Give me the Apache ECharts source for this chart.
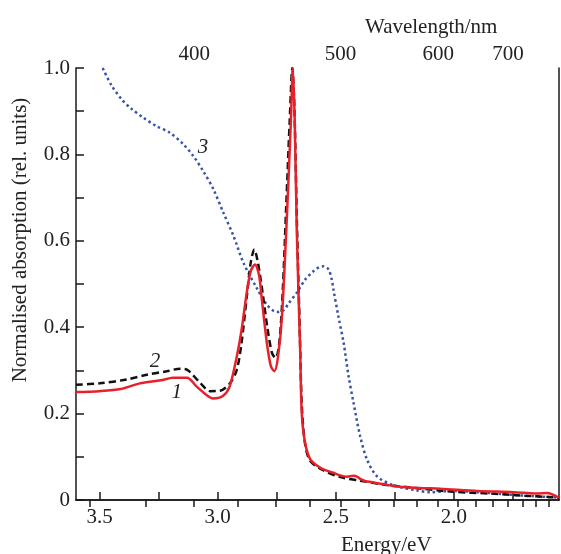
<!DOCTYPE html>
<html>
<head>
<meta charset="utf-8">
<script src="https://cdn.jsdelivr.net/npm/echarts@6/dist/echarts.min.js"></script>
<style>
  html, body { margin: 0; padding: 0; background: #fff; }
  #chart { width: 561px; height: 554px; }
</style>
</head>
<body>
<div id="chart"></div>
<script>
// curve 1 (red, solid)
const energy1 = [3.60, 3.50, 3.41, 3.33, 3.24, 3.19, 3.13, 3.09, 3.05, 3.02, 2.98, 2.95, 2.92, 2.90, 2.877, 2.86, 2.842, 2.825, 2.813, 2.792, 2.775, 2.76, 2.745, 2.728, 2.707, 2.69, 2.682, 2.674, 2.665, 2.651, 2.644, 2.63, 2.608, 2.58, 2.552, 2.51, 2.481, 2.453, 2.425, 2.41, 2.397, 2.376, 2.30, 2.255, 2.15, 2.058, 1.90, 1.747, 1.65, 1.606, 1.555]
const absorb1 = [0.250, 0.252, 0.257, 0.270, 0.277, 0.283, 0.283, 0.263, 0.244, 0.235, 0.240, 0.262, 0.33, 0.39, 0.48, 0.53, 0.545, 0.52, 0.464, 0.364, 0.31, 0.298, 0.33, 0.425, 0.657, 0.88, 1.0, 0.88, 0.62, 0.348, 0.20, 0.132, 0.094, 0.080, 0.071, 0.063, 0.057, 0.054, 0.056, 0.054, 0.049, 0.044, 0.037, 0.032, 0.028, 0.026, 0.021, 0.018, 0.015, 0.016, 0.005]

// curve 2 (black, dashed)
const energy2 = [3.60, 3.50, 3.385, 3.30, 3.216, 3.159, 3.131, 3.074, 3.032, 2.99, 2.947, 2.919, 2.90, 2.877, 2.86, 2.845, 2.83, 2.81, 2.79, 2.77, 2.755, 2.74, 2.725, 2.71, 2.695, 2.684, 2.675, 2.665, 2.652, 2.644, 2.63, 2.608, 2.55, 2.48, 2.40, 2.30, 2.15, 2.00, 1.85, 1.70, 1.60, 1.555]
const absorb2 = [0.267, 0.270, 0.279, 0.290, 0.298, 0.304, 0.302, 0.271, 0.252, 0.253, 0.271, 0.302, 0.36, 0.47, 0.55, 0.580, 0.55, 0.48, 0.40, 0.34, 0.329, 0.36, 0.48, 0.68, 0.88, 1.0, 0.90, 0.65, 0.38, 0.22, 0.130, 0.090, 0.068, 0.053, 0.045, 0.036, 0.027, 0.019, 0.015, 0.010, 0.007, 0.005]

// curve 3 (blue, dotted)
const energy3 = [3.487, 3.45, 3.406, 3.364, 3.315, 3.258, 3.202, 3.145, 3.103, 3.061, 3.018, 2.976, 2.933, 2.891, 2.834, 2.792, 2.75, 2.72, 2.70, 2.665, 2.63, 2.594, 2.57, 2.552, 2.531, 2.517, 2.51, 2.489, 2.467, 2.446, 2.425, 2.397, 2.368, 2.326, 2.255, 2.156, 2.10, 2.04, 2.00, 1.90, 1.80, 1.70, 1.60, 1.555]
const absorb3 = [1.0, 0.96, 0.927, 0.905, 0.885, 0.865, 0.850, 0.823, 0.796, 0.761, 0.719, 0.665, 0.611, 0.549, 0.49, 0.452, 0.435, 0.44, 0.455, 0.480, 0.51, 0.530, 0.539, 0.541, 0.534, 0.51, 0.487, 0.425, 0.364, 0.287, 0.225, 0.148, 0.094, 0.055, 0.034, 0.022, 0.018, 0.020, 0.021, 0.018, 0.014, 0.010, 0.007, 0.005]

const energyTicks = [3.5, 3.25, 3.0, 2.75, 2.5, 2.25, 2.0, 1.75]
const energyLabels = [3.5, 3.0, 2.5, 2.0]
const wavelengthTicks = [350, 375, 400, 425, 450, 475, 500, 525, 550, 575, 600, 625, 650, 675, 700, 725, 750, 775]
const wavelengthLabels = [400, 500, 600, 700]
const absorbLabels = [0, 0.2, 0.4, 0.6, 0.8, 1.0]

const HC = 1239.84
const font = 'Liberation Serif'
const axisColor = '#1a1a1a'

const pairs = (xs, ys) => xs.map((x, i) => [x, ys[i]])

let myChart = echarts.init(document.getElementById('chart'))
myChart.setOption({
    animation: false,
    grid: { left: 76, right: 2, top: 68, bottom: 54 },
    xAxis: [{
        type: 'value',
        inverse: true,
        min: 1.555,
        max: 3.6,
        position: 'bottom',
        splitLine: { show: false },
        axisLine: { lineStyle: { color: axisColor, width: 1.5 } },
        axisTick: { inside: true, length: 8, customValues: energyTicks, lineStyle: { color: axisColor, width: 1.5 } },
        axisLabel: {
            customValues: energyLabels, margin: 7,
            formatter: v => v.toFixed(1),
            fontFamily: font, fontSize: 21, color: '#222'
        }
    }, {
        type: 'value',
        inverse: true,
        min: 1.555,
        max: 3.6,
        position: 'top',
        splitLine: { show: false },
        axisLine: { lineStyle: { color: axisColor, width: 1.5 } },
        axisTick: { inside: true, length: 7, customValues: wavelengthTicks.map(w => HC / w), lineStyle: { color: axisColor, width: 1.5 } },
        axisLabel: {
            customValues: wavelengthLabels.map(w => HC / w), margin: 3,
            formatter: v => String(Math.round(HC / v)),
            fontFamily: font, fontSize: 21, color: '#222'
        }
    }],
    yAxis: [{
        type: 'value',
        min: 0,
        max: 1,
        interval: 0.1,
        splitLine: { show: false },
        axisLine: { show: true, lineStyle: { color: axisColor, width: 1.5 } },
        axisTick: { show: true, inside: true, length: 8, lineStyle: { color: axisColor, width: 1.5 } },
        axisLabel: {
            customValues: absorbLabels, margin: 6,
            formatter: v => v === 0 ? '0' : v.toFixed(1),
            fontFamily: font, fontSize: 21, color: '#222'
        }
    }, {
        type: 'value',
        min: 0,
        max: 1,
        position: 'right',
        splitLine: { show: false },
        axisLine: { show: true, lineStyle: { color: axisColor, width: 1.5 } },
        axisTick: { show: false },
        axisLabel: { show: false }
    }],
    graphic: [{
        type: 'text', left: 365, top: 17,
        style: { text: 'Wavelength/nm', font: '21px "Liberation Serif"', fill: '#222' }
    }, {
        type: 'text', left: 341, top: 535,
        style: { text: 'Energy/eV', font: '21px "Liberation Serif"', fill: '#222' }
    }, {
        // y axis title sits above the middle of the axis in the original
        type: 'text', x: 20, y: 240, rotation: Math.PI / 2,
        style: {
            text: 'Normalised absorption (rel. units)', font: '21px "Liberation Serif"',
            fill: '#222', align: 'center', verticalAlign: 'middle'
        }
    }],
    series: [{
        name: '3',
        type: 'line',
        data: pairs(energy3, absorb3),
        showSymbol: false,
        smooth: 0.3,
        clip: true,
        lineStyle: { color: '#3752a8', width: 2.5, type: [2.5, 3], cap: 'butt' },
        markPoint: {
            symbolSize: 0,
            data: [{ coord: [3.062, 0.816] }],
            label: { show: true, formatter: '3', fontFamily: font, fontSize: 21, fontStyle: 'italic', color: '#222' }
        }
    }, {
        name: '2',
        type: 'line',
        data: pairs(energy2, absorb2),
        showSymbol: false,
        smooth: 0.3,
        clip: true,
        lineStyle: { color: '#111', width: 2.5, type: [7, 4], cap: 'butt' },
        markPoint: {
            symbolSize: 0,
            data: [{ coord: [3.265, 0.321] }],
            label: { show: true, formatter: '2', fontFamily: font, fontSize: 21, fontStyle: 'italic', color: '#222' }
        }
    }, {
        name: '1',
        type: 'line',
        data: pairs(energy1, absorb1),
        showSymbol: false,
        smooth: 0.3,
        clip: true,
        lineStyle: { color: '#e8202a', width: 2.5 },
        markPoint: {
            symbolSize: 0,
            data: [{ coord: [3.173, 0.249] }],
            label: { show: true, formatter: '1', fontFamily: font, fontSize: 21, fontStyle: 'italic', color: '#222' }
        }
    }]
})
</script>
</body>
</html>
